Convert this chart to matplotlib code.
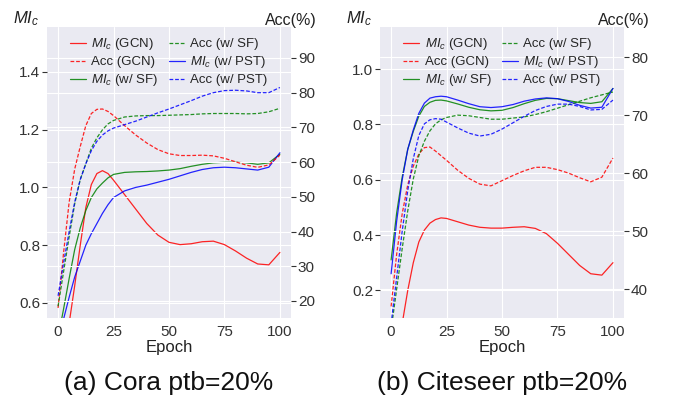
import matplotlib
matplotlib.use('Agg')
import matplotlib.pyplot as plt
import seaborn as sns

sns.set_style('darkgrid')
plt.rcParams['font.family'] = ['Liberation Sans', 'DejaVu Sans']
plt.rcParams['mathtext.fontset'] = 'custom'
plt.rcParams['mathtext.rm'] = 'Liberation Sans'
plt.rcParams['mathtext.it'] = 'Liberation Sans:italic'

epochs = [0, 2.5, 5, 7.5, 10, 12.5, 15, 17.5, 20, 22.5, 25, 30, 35, 40, 45,
          50, 55, 60, 65, 70, 75, 80, 85, 90, 95, 100]

# Cora ptb=20%
cora_mi_gcn = [0.25, 0.40, 0.53, 0.66, 0.80, 0.93, 1.01, 1.048, 1.058, 1.048, 1.025, 0.975, 0.925,
               0.875, 0.835, 0.81, 0.802, 0.805, 0.812, 0.814, 0.802, 0.78, 0.755, 0.735, 0.732, 0.775]
cora_acc_gcn = [18, 34, 48.5, 58, 64.5, 70.5, 74, 75.2, 75.3, 74.6, 73.4, 70.5, 67.8,
                65.5, 63.6, 62.4, 61.9, 61.9, 62, 61.8, 61.1, 60.1, 59.1, 58.5, 59.2, 62]
cora_mi_sf = [0.48, 0.58, 0.685, 0.785, 0.86, 0.92, 0.965, 0.995, 1.015, 1.033, 1.045, 1.052, 1.054,
              1.055, 1.057, 1.06, 1.065, 1.073, 1.08, 1.085, 1.087, 1.087, 1.085, 1.08, 1.085, 1.115]
cora_acc_sf = [18.5, 28.5, 38.5, 48, 55, 59.5, 64, 67, 69.3, 71, 72, 73, 73.3,
               73.4, 73.4, 73.5, 73.6, 73.7, 73.9, 74, 74, 74, 73.9, 74, 74.5, 75.5]
cora_mi_pst = [0.47, 0.545, 0.62, 0.69, 0.745, 0.80, 0.84, 0.875, 0.91, 0.94, 0.965, 0.988, 1.0,
               1.008, 1.018, 1.028, 1.04, 1.052, 1.062, 1.068, 1.07, 1.068, 1.064, 1.06, 1.07, 1.12]
cora_acc_pst = [21.5, 31, 40, 48.5, 55, 59.5, 63.3, 66, 67.8, 69, 69.8, 70.8, 71.8,
                73, 74.2, 75.3, 76.5, 77.7, 79, 80, 80.6, 80.7, 80.5, 80, 80, 81.5]

# Citeseer ptb=20%
cite_mi_gcn = [-0.15, -0.03, 0.08, 0.20, 0.30, 0.375, 0.418, 0.443, 0.456, 0.462, 0.46, 0.448, 0.436,
               0.428, 0.425, 0.425, 0.428, 0.43, 0.424, 0.405, 0.37, 0.33, 0.29, 0.26, 0.255, 0.30]
cite_acc_gcn = [37, 46, 53, 58, 61.2, 63.3, 64.4, 64.5, 63.8, 63, 62.2, 60.5, 59.1,
                58.1, 57.8, 58.7, 59.6, 60.4, 61, 61, 60.6, 60, 59.2, 58.5, 59.3, 62.6]
cite_mi_sf = [0.31, 0.48, 0.61, 0.71, 0.775, 0.83, 0.865, 0.88, 0.887, 0.888, 0.885, 0.874, 0.862,
              0.853, 0.849, 0.851, 0.861, 0.875, 0.887, 0.894, 0.893, 0.886, 0.879, 0.876, 0.882, 0.93]
cite_acc_sf = [33, 40, 47, 53.5, 59, 63, 65.5, 67.3, 68.5, 69.2, 69.6, 70, 69.9,
               69.6, 69.3, 69.3, 69.5, 69.7, 70.1, 70.6, 71.2, 71.8, 72.4, 73, 73.5, 74]
cite_mi_pst = [0.26, 0.45, 0.60, 0.71, 0.78, 0.84, 0.877, 0.895, 0.9, 0.902, 0.9, 0.888, 0.875,
               0.864, 0.861, 0.864, 0.872, 0.884, 0.892, 0.896, 0.893, 0.883, 0.869, 0.859, 0.862, 0.93]
cite_acc_pst = [34, 42, 50, 57, 62.5, 66.5, 68.5, 69.2, 69.4, 69.3, 68.8, 67.8, 66.9,
                66.4, 66.7, 67.6, 68.7, 69.8, 70.8, 71.5, 71.9, 71.9, 71.5, 70.9, 71, 72.6]

labels = [r'$MI_c$ (GCN)', 'Acc (GCN)', r'$MI_c$ (w/ SF)',
          'Acc (w/ SF)', r'$MI_c$ (w/ PST)', 'Acc (w/ PST)']


def draw_panel(rect, mi, acc, mi_lim, acc_lim, mi_ticks, acc_ticks, title):
    ax = fig.add_axes(rect)
    ax2 = ax.twinx()
    colors = ['red', 'green', 'blue']
    handles = []
    for m, a, c in zip(mi, acc, colors):
        h1, = ax.plot(epochs, m, color=c, lw=0.9, alpha=0.85)
        h2, = ax2.plot(epochs, a, '--', color=c, lw=0.9, alpha=0.85, dashes=(3, 1.5))
        handles += [h1, h2]
    ax.set_xlim(-5, 105)
    ax.set_xticks([0, 25, 50, 75, 100])
    ax.set_ylim(mi_lim)
    ax.set_yticks(mi_ticks)
    ax2.set_ylim(acc_lim)
    ax2.set_yticks(acc_ticks)
    ax2.grid(True, color='white')
    for a in (ax, ax2):
        a.tick_params(labelsize=11, pad=1.5, colors='#333333')
        for s in a.spines.values():
            s.set_visible(False)
    ax.set_xlabel('Epoch', fontsize=12, labelpad=1, color='#222222')
    ax.text(-0.085, 1.03, r'$MI_c$', transform=ax.transAxes, ha='center', va='center',
            fontsize=12, color='#222222')
    ax.text(1.0, 1.022, 'Acc(%)', transform=ax.transAxes, ha='center', va='center',
            fontsize=11.5, color='#222222')
    ax2.legend(handles, labels, loc='upper center', bbox_to_anchor=(0.5, 1.0), ncol=2,
               frameon=False, fontsize=9.5, handlelength=1.2, handletextpad=0.4,
               columnspacing=0.8, labelspacing=0.3, borderaxespad=0.3)
    ax.text(0.5, -0.225, title, transform=ax.transAxes, ha='center', va='center',
            fontsize=19, color='#111111')


fig = plt.figure(figsize=(6.75, 3.98), dpi=100)

draw_panel([0.0696, 0.201, 0.3615, 0.731],
           [cora_mi_gcn, cora_mi_sf, cora_mi_pst], [cora_acc_gcn, cora_acc_sf, cora_acc_pst],
           (0.548, 1.555), (15.1, 98.9), [0.6, 0.8, 1.0, 1.2, 1.4], [20, 30, 40, 50, 60, 70, 80, 90],
           '(a) Cora ptb=20%')
draw_panel([0.563, 0.201, 0.3615, 0.731],
           [cite_mi_gcn, cite_mi_sf, cite_mi_pst], [cite_acc_gcn, cite_acc_sf, cite_acc_pst],
           (0.1, 1.152), (35, 85.2), [0.2, 0.4, 0.6, 0.8, 1.0], [40, 50, 60, 70, 80],
           '(b) Citeseer ptb=20%')

plt.savefig('out.png', dpi=100)
